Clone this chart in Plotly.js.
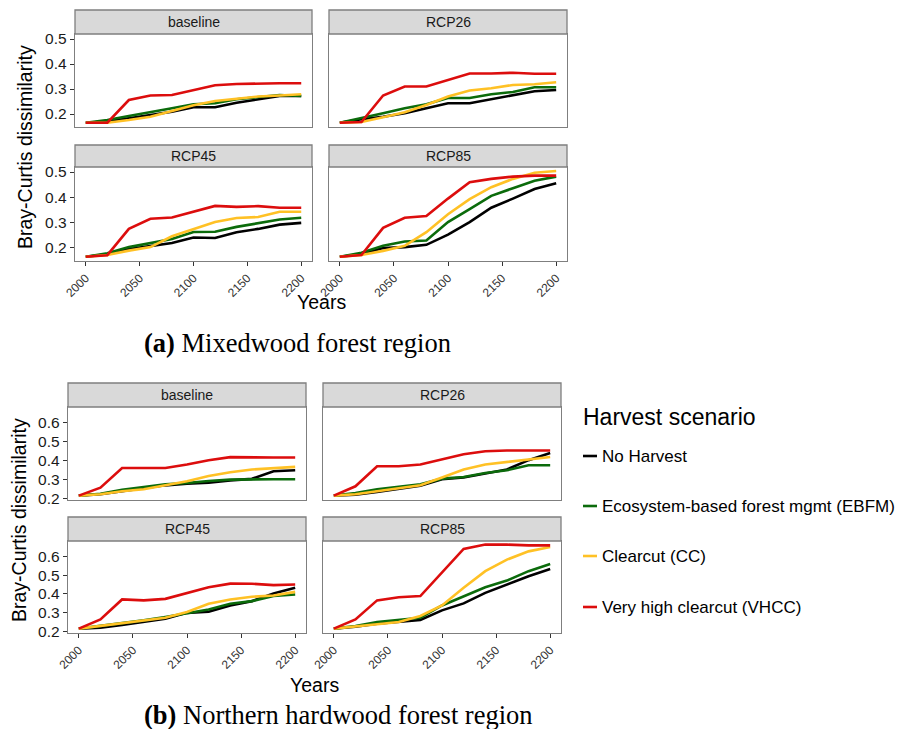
<!DOCTYPE html>
<html><head><meta charset="utf-8">
<script src="https://cdn.plot.ly/plotly-3.0.1.min.js"></script>
<style>html,body{margin:0;padding:0;background:#fff}</style>
</head><body><div id="chart" style="width:901px;height:729px"></div>
<script>
// ---------- DATA ----------
const years = [2000,2020,2040,2060,2080,2100,2120,2140,2160,2180,2200];
const scenarios = ['No Harvest','Ecosystem-based forest mgmt (EBFM)','Clearcut (CC)','Very high clearcut (VHCC)'];
const facets = ['baseline','RCP26','RCP45','RCP85'];
const regions = ['Mixedwood forest region','Northern hardwood forest region'];
const yTicksMix = [0.2,0.3,0.4,0.5];
const yTicksNH = [0.2,0.3,0.4,0.5,0.6];
const xTicks = [2000,2050,2100,2150,2200];

// (a) Mixedwood
const mixBaselineNH   = [0.165,0.170,0.183,0.196,0.209,0.227,0.227,0.245,0.259,0.272,0.272];
const mixBaselineEBFM = [0.165,0.176,0.192,0.209,0.223,0.239,0.243,0.259,0.267,0.276,0.272];
const mixBaselineCC   = [0.165,0.165,0.176,0.189,0.212,0.235,0.252,0.262,0.270,0.274,0.279];
const mixBaselineVHCC = [0.165,0.165,0.256,0.274,0.276,0.296,0.315,0.320,0.323,0.323,0.323];
const mixRCP26NH   = [0.165,0.179,0.189,0.203,0.223,0.243,0.243,0.259,0.272,0.291,0.296];
const mixRCP26EBFM = [0.165,0.183,0.203,0.223,0.239,0.264,0.264,0.279,0.288,0.307,0.307];
const mixRCP26CC   = [0.165,0.168,0.187,0.207,0.236,0.270,0.294,0.303,0.316,0.319,0.327];
const mixRCP26VHCC = [0.165,0.168,0.274,0.310,0.310,0.337,0.362,0.362,0.365,0.361,0.361];
const mixRCP45NH   = [0.165,0.175,0.195,0.208,0.219,0.241,0.239,0.262,0.275,0.292,0.299];
const mixRCP45EBFM = [0.165,0.179,0.203,0.219,0.235,0.263,0.264,0.283,0.296,0.312,0.319];
const mixRCP45CC   = [0.165,0.172,0.189,0.203,0.246,0.275,0.302,0.318,0.322,0.343,0.343];
const mixRCP45VHCC = [0.165,0.171,0.275,0.315,0.320,0.342,0.366,0.362,0.365,0.359,0.359];
const mixRCP85NH   = [0.165,0.175,0.199,0.203,0.212,0.252,0.302,0.359,0.395,0.433,0.456];
const mixRCP85EBFM = [0.165,0.181,0.208,0.225,0.229,0.302,0.353,0.406,0.436,0.466,0.482];
const mixRCP85CC   = [0.165,0.172,0.188,0.208,0.262,0.333,0.393,0.440,0.473,0.497,0.504];
const mixRCP85VHCC = [0.165,0.172,0.279,0.319,0.326,0.395,0.460,0.473,0.482,0.486,0.486];

// (b) Northern hardwood
const nhBaselineNH   = [0.216,0.223,0.239,0.253,0.270,0.279,0.284,0.296,0.304,0.344,0.349];
const nhBaselineEBFM = [0.216,0.226,0.247,0.261,0.275,0.282,0.293,0.300,0.302,0.302,0.302];
const nhBaselineCC   = [0.216,0.223,0.239,0.249,0.270,0.291,0.319,0.339,0.353,0.361,0.367];
const nhBaselineVHCC = [0.216,0.258,0.361,0.361,0.361,0.379,0.402,0.418,0.416,0.416,0.416];
const nhRCP26NH   = [0.216,0.221,0.235,0.253,0.268,0.302,0.311,0.332,0.353,0.402,0.440];
const nhRCP26EBFM = [0.216,0.230,0.249,0.263,0.275,0.305,0.314,0.335,0.349,0.375,0.375];
const nhRCP26CC   = [0.216,0.223,0.239,0.253,0.270,0.311,0.353,0.379,0.393,0.407,0.419];
const nhRCP26VHCC = [0.216,0.265,0.370,0.370,0.379,0.405,0.433,0.449,0.453,0.453,0.453];
const nhRCP45NH   = [0.216,0.221,0.235,0.251,0.269,0.300,0.306,0.339,0.362,0.403,0.433];
const nhRCP45EBFM = [0.216,0.230,0.248,0.260,0.278,0.300,0.318,0.348,0.362,0.389,0.397];
const nhRCP45CC   = [0.216,0.230,0.244,0.256,0.274,0.304,0.348,0.371,0.385,0.392,0.411];
const nhRCP45VHCC = [0.216,0.265,0.371,0.366,0.374,0.406,0.436,0.455,0.454,0.447,0.450];
const nhRCP85NH   = [0.216,0.226,0.242,0.251,0.262,0.313,0.350,0.406,0.450,0.494,0.533];
const nhRCP85EBFM = [0.216,0.230,0.251,0.262,0.274,0.339,0.389,0.436,0.471,0.521,0.559];
const nhRCP85CC   = [0.216,0.226,0.239,0.251,0.283,0.339,0.433,0.521,0.582,0.626,0.649];
const nhRCP85VHCC = [0.216,0.265,0.366,0.383,0.389,0.512,0.639,0.662,0.662,0.658,0.658];

// ---------- STYLE / LAYOUT ----------
const colors = ['#000000','#0b6b0b','#ffc125','#dc0d0d'];
const W = 901, H = 729;
const px = v => v / W;
const py = v => 1 - v / H;

const series = [
  [mixBaselineNH,mixBaselineEBFM,mixBaselineCC,mixBaselineVHCC],
  [mixRCP26NH,mixRCP26EBFM,mixRCP26CC,mixRCP26VHCC],
  [mixRCP45NH,mixRCP45EBFM,mixRCP45CC,mixRCP45VHCC],
  [mixRCP85NH,mixRCP85EBFM,mixRCP85CC,mixRCP85VHCC],
  [nhBaselineNH,nhBaselineEBFM,nhBaselineCC,nhBaselineVHCC],
  [nhRCP26NH,nhRCP26EBFM,nhRCP26CC,nhRCP26VHCC],
  [nhRCP45NH,nhRCP45EBFM,nhRCP45CC,nhRCP45VHCC],
  [nhRCP85NH,nhRCP85EBFM,nhRCP85CC,nhRCP85VHCC]
];

// panel pixel boxes: [left, right, stripTop, plotTop, plotBottom]
const panels = [
  [75,312,10,34,127],[329,567,10,34,127],[75,312,145,167,261],[329,567,145,167,261],
  [68,306,383,407,500],[323,561,383,407,500],[68,306,517,541,633],[323,561,517,541,633]
];

const traces = [];
const layout = {
  width: W, height: H, margin: {l:0,r:0,t:0,b:0},
  paper_bgcolor: '#ffffff', plot_bgcolor: '#ffffff',
  showlegend: false, hovermode: false,
  font: {family: 'Liberation Sans, Arial, sans-serif', color: '#222'},
  shapes: [], annotations: []
};

panels.forEach((p, i) => {
  const fig = i < 4 ? 0 : 1;
  const col = i % 2, row = Math.floor((i % 4) / 2);
  const xa = 'x' + (i === 0 ? '' : i + 1), ya = 'y' + (i === 0 ? '' : i + 1);
  const xName = 'xaxis' + (i === 0 ? '' : i + 1), yName = 'yaxis' + (i === 0 ? '' : i + 1);
  series[i].forEach((vals, s) => {
    traces.push({
      x: years, y: vals, type: 'scatter', mode: 'lines', name: scenarios[s],
      xaxis: xa, yaxis: ya,
      line: {color: colors[s], width: 2.6}
    });
  });
  layout[xName] = {
    domain: [px(p[0]), px(p[1])], anchor: ya,
    range: [1990, 2210], tickvals: xTicks, ticktext: xTicks.map(String),
    showgrid: false, zeroline: false, showline: true, mirror: true,
    linecolor: '#7f7f7f', linewidth: 1.3,
    ticks: row === 1 ? 'outside' : '', ticklen: 4, tickcolor: '#333',
    showticklabels: row === 1, tickangle: -45,
    tickfont: {size: 12, color: '#333', family: 'Liberation Sans, Arial, sans-serif'}
  };
  layout[yName] = {
    domain: [py(p[4]), py(p[3])], anchor: xa,
    range: fig === 0 ? [0.148, 0.52] : [0.193, 0.681],
    tickvals: fig === 0 ? yTicksMix : yTicksNH,
    ticktext: (fig === 0 ? yTicksMix : yTicksNH).map(v => v.toFixed(1)),
    showgrid: false, zeroline: false, showline: true, mirror: true,
    linecolor: '#7f7f7f', linewidth: 1.3,
    ticks: col === 0 ? 'outside' : '', ticklen: 4, tickcolor: '#333',
    showticklabels: col === 0,
    tickfont: {size: 15.5, color: '#1a1a1a', family: 'Liberation Sans, Arial, sans-serif'}
  };
  // strip
  layout.shapes.push({type: 'rect', xref: 'paper', yref: 'paper',
    x0: px(p[0]), x1: px(p[1]), y0: py(p[3]), y1: py(p[2]),
    fillcolor: '#d9d9d9', line: {color: '#7f7f7f', width: 1.3}, layer: 'above'});
  layout.annotations.push({xref: 'paper', yref: 'paper', showarrow: false,
    x: px((p[0] + p[1]) / 2), y: py((p[2] + p[3]) / 2), xanchor: 'center', yanchor: 'middle',
    text: facets[i % 4], font: {size: 14, color: '#1a1a1a'}});
});

// axis titles
const yTitleFont = {size: 19.5, color: '#000', family: 'Liberation Sans, Arial, sans-serif'};
[[25, 147], [19, 520]].forEach(([x, y]) => {
  layout.annotations.push({xref: 'paper', yref: 'paper', showarrow: false, textangle: -90,
    x: px(x), y: py(y), xanchor: 'center', yanchor: 'middle',
    text: 'Bray-Curtis dissimilarity', font: yTitleFont});
});
[[321, 302], [314, 685]].forEach(([x, y]) => {
  layout.annotations.push({xref: 'paper', yref: 'paper', showarrow: false,
    x: px(x), y: py(y), xanchor: 'center', yanchor: 'middle',
    text: 'Years', font: yTitleFont});
});
// captions
[['a', 297, 343], ['b', 338, 715]].forEach(([l, x, y], k) => {
  layout.annotations.push({xref: 'paper', yref: 'paper', showarrow: false,
    x: px(x), y: py(y), xanchor: 'center', yanchor: 'middle',
    text: '<b>(' + l + ')</b> ' + regions[k],
    font: {size: 26.5, color: '#000', family: 'Liberation Serif, Times New Roman, serif'}});
});
// legend (drawn)
layout.annotations.push({xref: 'paper', yref: 'paper', showarrow: false,
  x: px(581), y: py(417), xanchor: 'left', yanchor: 'middle',
  text: 'Harvest scenario', font: {size: 23, color: '#000'}});
const legY = [456, 506, 556, 607];
scenarios.forEach((s, k) => {
  layout.shapes.push({type: 'line', xref: 'paper', yref: 'paper',
    x0: px(583), x1: px(597), y0: py(legY[k]), y1: py(legY[k]),
    line: {color: colors[k], width: 2.6}});
  layout.annotations.push({xref: 'paper', yref: 'paper', showarrow: false,
    x: px(600), y: py(legY[k]), xanchor: 'left', yanchor: 'middle',
    text: s, font: {size: 17, color: '#000'}});
});

Plotly.newPlot('chart', traces, layout, {staticPlot: true, displayModeBar: false});
</script></body></html>
